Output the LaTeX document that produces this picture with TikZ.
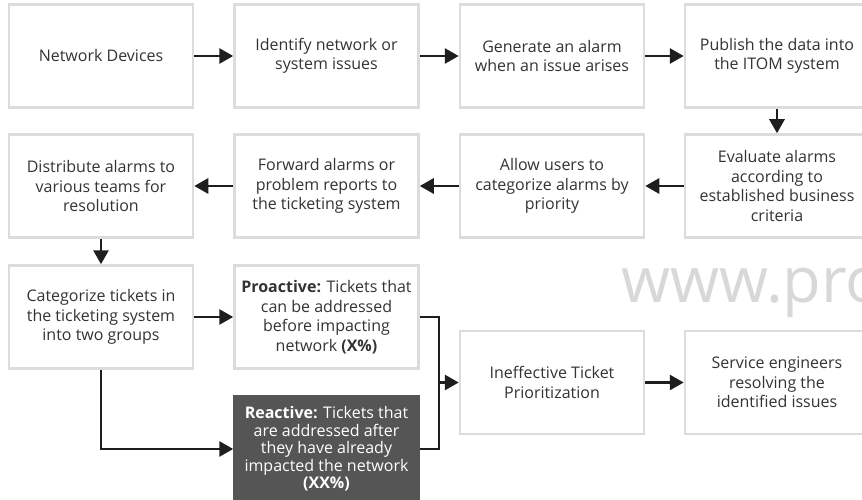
\documentclass[tikz,border=0pt]{standalone}
\usepackage{fontspec}
\setmainfont{Open Sans}
\usetikzlibrary{arrows.meta}
\definecolor{boxgray}{HTML}{DCDCDC}
\definecolor{txt}{HTML}{333333}
\definecolor{arrc}{HTML}{1E1E1E}
\definecolor{darkbox}{HTML}{555555}
\definecolor{wmc}{HTML}{D8D8D8}
\begin{document}
\begin{tikzpicture}[x=1pt,y=-1pt,
  box/.style={draw=boxgray, line width=2.5pt, minimum width=184pt, minimum height=103pt,
    align=center, font=\fontsize{16}{19.5}\selectfont, text=txt, inner sep=0pt},
  darkstep/.style={box, fill=darkbox, draw=darkbox, text=white, minimum height=106pt,
    font=\fontsize{16}{17.5}\selectfont},
  arr/.style={line width=2.8pt, draw=arrc, -{Triangle[length=14pt,width=15pt]}},
  link/.style={line width=2.8pt, draw=arrc, line join=miter}]
\useasboundingbox (0,0) rectangle (862,500);
\fill[white] (0,0) rectangle (862,500);

\node[anchor=base west, text=wmc, font=\fontsize{63}{63}\selectfont] (wm) at (618,302) {www.pro};

\node[box] (n1) at (101,56) {Network Devices};
\node[box] (n2) at (326.5,56) {Identify network or\\system issues};
\node[box] (n3) at (552,56) {Generate an alarm\\when an issue arises};
\node[box] (n4) at (777,56) {Publish the data into\\the ITOM system};

\node[box] (e) at (777,186) {Evaluate alarms\\according to\\established business\\criteria};
\node[box] (a) at (552,186) {Allow users to\\categorize alarms by\\priority};
\node[box] (f) at (326.5,186) {Forward alarms or\\problem reports to\\the ticketing system};
\node[box] (d) at (101,186) {Distribute alarms to\\various teams for\\resolution};

\node[box] (c) at (101,317) {Categorize tickets in\\the ticketing system\\into two groups};
\node[box] (p) at (326.5,317) {\textbf{Proactive:} Tickets that\\can be addressed\\before impacting\\network \textbf{(X\%)}};
\node[darkstep] (r) at (326.5,449) {\textbf{Reactive:} Tickets that\\are addressed after\\they have already\\impacted the network\\\textbf{(XX\%)}};
\node[box] (i) at (552,382.5) {Ineffective Ticket\\Prioritization};
\node[box] (s) at (777,382.5) {Service engineers\\resolving the\\identified issues};

\coordinate (jm) at (439,382.5);

\draw[arr] (n1) -- (n2);
\draw[arr] (n2) -- (n3);
\draw[arr] (n3) -- (n4);
\draw[arr] (n4) -- (e);
\draw[arr] (e) -- (a);
\draw[arr] (a) -- (f);
\draw[arr] (f) -- (d);
\draw[arr] (d) -- (c);
\draw[arr] (c) -- (p);
\draw[arr] (c.south) |- (r.west);
\draw[link] (p.east) -| (jm) |- (r.east);
\draw[arr] (jm) -- (i.west);
\draw[arr] (i) -- (s);
\end{tikzpicture}
\end{document}
